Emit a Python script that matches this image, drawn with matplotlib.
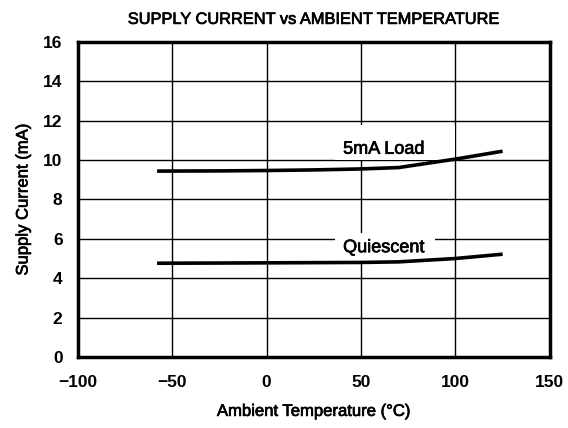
import matplotlib
matplotlib.use("Agg")
import matplotlib.pyplot as plt
import matplotlib.patheffects as pe
from matplotlib.patches import Rectangle

plt.rcParams['font.family'] = ['Liberation Sans', 'DejaVu Sans']

# readings
temps = [-58, -25, 0, 25, 50, 70, 100, 125]
load_5ma = [9.44, 9.45, 9.47, 9.5, 9.55, 9.62, 10.05, 10.45]
quiescent = [4.76, 4.77, 4.78, 4.79, 4.8, 4.83, 5.0, 5.22]

xticks = [-100, -50, 0, 50, 100, 150]
yticks = [0, 2, 4, 6, 8, 10, 12, 14, 16]

heavy = [pe.withStroke(linewidth=0.5, foreground="black")]

fig = plt.figure(figsize=(5.68, 4.28), dpi=100)
ax = fig.add_axes([0.137, 0.166, 0.831, 0.736])

ax.plot(temps, load_5ma, color="black", lw=2.6, solid_capstyle="butt", zorder=2)
ax.plot(temps, quiescent, color="black", lw=2.6, solid_capstyle="butt", zorder=2)

# white label backgrounds break the grid like in the printed chart
ax.add_patch(Rectangle((36, 10.0), 64, 1.8, facecolor="white", edgecolor="none", zorder=1))
ax.add_patch(Rectangle((36, 4.85), 53, 1.45, facecolor="white", edgecolor="none", zorder=1))
ax.text(62, 10.55, "5mA Load", ha="center", va="center", fontsize=13, zorder=3,
        path_effects=heavy)
ax.text(62, 5.55, "Quiescent", ha="center", va="center", fontsize=13, zorder=3,
        path_effects=heavy)

ax.set_xlim(-100, 150)
ax.set_ylim(0, 16)
ax.set_xticks(xticks)
ax.set_yticks(yticks)
ax.grid(True, color="black", lw=1.0, zorder=0.5)
ax.set_axisbelow(True)
ax.tick_params(length=0, labelsize=12.5)
ax.tick_params(axis="x", pad=13)
ax.tick_params(axis="y", pad=11)
for lab in ax.get_xticklabels() + ax.get_yticklabels():
    lab.set_fontweight("bold")
for s in ax.spines.values():
    s.set_linewidth(2.5)

ax.set_xlabel("Ambient Temperature (°C)", fontsize=12, labelpad=10, path_effects=heavy)
ax.set_ylabel("Supply Current (mA)", fontsize=12, labelpad=9, path_effects=heavy)
ax.set_title("SUPPLY CURRENT vs AMBIENT TEMPERATURE", fontsize=11.8, pad=13,
             path_effects=heavy)

fig.savefig("out.png", dpi=100)
